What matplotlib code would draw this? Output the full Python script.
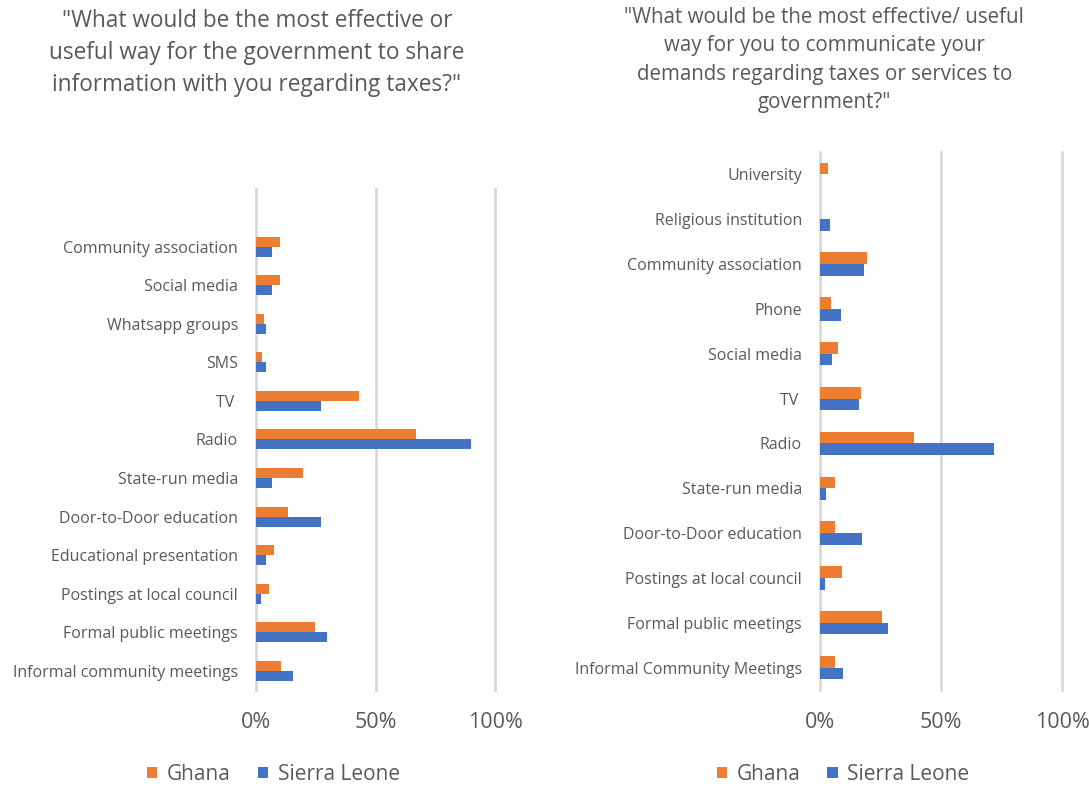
import matplotlib.pyplot as plt
import numpy as np
from matplotlib.ticker import PercentFormatter

plt.rcParams['font.family'] = ['Open Sans', 'DejaVu Sans']

ORANGE = '#ED7D31'
BLUE = '#4472C4'
GRID = '#D9D9D9'
TEXT = '#595959'

# left chart: government -> citizens (percent)
left_labels = ['Community association', 'Social media', 'Whatsapp groups', 'SMS', 'TV ',
               'Radio', 'State-run media', 'Door-to-Door education',
               'Educational presentation', 'Postings at local council',
               'Formal public meetings', 'Informal community meetings']
left_ghana = [10, 10, 3.5, 2.5, 43, 67, 19.5, 13.5, 7.5, 5.5, 24.5, 10.5]
left_sl = [6.5, 6.5, 4, 4, 27, 90, 6.5, 27, 4, 2, 29.5, 15.5]

# right chart: citizens -> government (percent)
right_labels = ['University', 'Religious institution', 'Community association', 'Phone',
                'Social media', 'TV ', 'Radio', 'State-run media', 'Door-to-Door education',
                'Postings at local council', 'Formal public meetings',
                'Informal Community Meetings']
right_ghana = [3.5, 0, 19.5, 4.5, 7.5, 17, 39, 6, 6, 9, 25.5, 6]
right_sl = [0, 4, 18, 8.5, 5, 16, 72, 2.5, 17.5, 2, 28, 9.5]

left_title = '"What would be the most effective or\nuseful way for the government to share\ninformation with you regarding taxes?"'
right_title = '"What would be the most effective/ useful\nway for you to communicate your\ndemands regarding taxes or services to\ngovernment?"'


def bar_panel(ax, labels, ghana, sl, top_pad):
    y = np.arange(len(labels))
    h = 0.26
    ax.barh(y - h / 2, ghana, height=h, color=ORANGE, label='Ghana', zorder=3)
    ax.barh(y + h / 2, sl, height=h, color=BLUE, label='Sierra Leone', zorder=3)
    ax.set_yticks(y)
    ax.set_yticklabels(labels, fontsize=11.5, color=TEXT)
    ax.set_ylim(len(labels) - 0.5, -0.5 - top_pad)
    ax.set_xlim(0, 100)
    ax.set_xticks([0, 50, 100])
    ax.xaxis.set_major_formatter(PercentFormatter(decimals=0))
    ax.tick_params(axis='x', labelsize=15.5, colors=TEXT, length=0, pad=16)
    ax.tick_params(axis='y', length=0, pad=13)
    ax.grid(axis='x', color=GRID, linewidth=2, zorder=0)
    for line in ax.get_xgridlines():
        line.set_clip_on(False)
    for s in ax.spines.values():
        s.set_visible(False)
    ax.legend(loc='center', bbox_to_anchor=(0.5, -0.2), ncol=2, frameon=False,
              fontsize=15, labelcolor=TEXT, handlelength=0.5, handleheight=0.5,
              handletextpad=0.45, columnspacing=1.3)


fig = plt.figure(figsize=(10.89, 7.87), dpi=100)

ax1 = fig.add_axes([0.2351, 0.1233, 0.2195, 0.6366])
bar_panel(ax1, left_labels, left_ghana, left_sl, 1)
ax1.legend_.set_bbox_to_anchor((0.251, 0.016), transform=fig.transFigure)

ax2 = fig.add_axes([0.753, 0.1233, 0.2222, 0.6836])
bar_panel(ax2, right_labels, right_ghana, right_sl, 0)
ax2.legend_.set_bbox_to_anchor((0.774, 0.016), transform=fig.transFigure)

fig.text(0.236, 0.988, left_title, ha='center', va='top', fontsize=16.3,
         color=TEXT, linespacing=1.42)
fig.text(0.757, 0.991, right_title, ha='center', va='top', fontsize=14.8,
         color=TEXT, linespacing=1.46)

plt.savefig('out.png', dpi=100)
